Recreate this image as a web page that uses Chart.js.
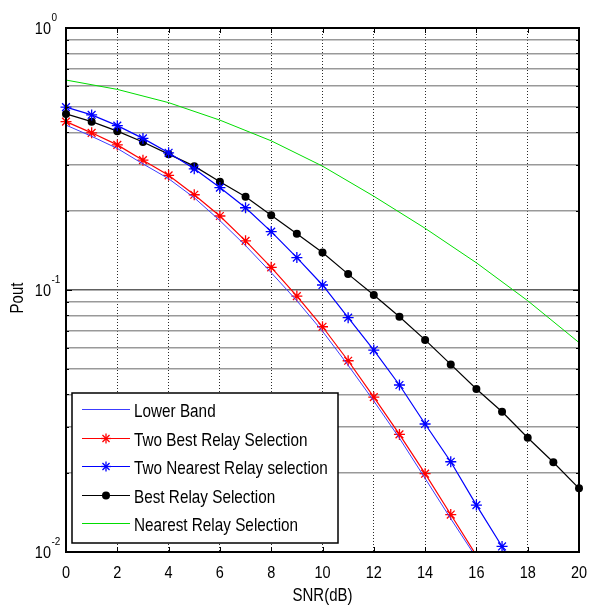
<!DOCTYPE html>
<html><head><meta charset="utf-8">
<script src="https://cdn.jsdelivr.net/npm/chart.js@4/dist/chart.umd.min.js"></script>
<style>html,body{margin:0;padding:0;background:#fff;}#wrap{width:590px;height:605px;}</style>
</head><body><div id="wrap"><canvas id="c" width="590" height="605"></canvas></div>
<script>
// ---- data ----
const snr = [0,1,2,3,4,5,6,7,8,9,10,11,12,13,14,15,16,17,18,19,20];
const xTickLabels = ['0','2','4','6','8','10','12','14','16','18','20'];
const yTickDecades = [1, 0.1, 0.01];
const yTickExponents = ['0','-1','-2'];
const lowerBand   = [0.426,0.386,0.347,0.303,0.266,0.225,0.184,0.1477,0.1165,0.091,0.0696,0.0516,0.0377,0.0272,0.0191,0.0134,0.0095];
const twoBest     = [0.439,0.398,0.358,0.313,0.274,0.231,0.1916,0.154,0.122,0.0948,0.0724,0.0537,0.039,0.0281,0.0199,0.0139,0.0097];
const twoNearest  = [0.499,0.466,0.424,0.379,0.334,0.290,0.246,0.206,0.167,0.133,0.1045,0.0784,0.059,0.0434,0.0308,0.0221,0.0151,0.0105,0.007];
const bestRelay   = [0.470,0.439,0.404,0.367,0.330,0.297,0.259,0.227,0.193,0.164,0.139,0.115,0.0957,0.079,0.0645,0.052,0.0419,0.0343,0.0273,0.022,0.0175];
const nearestSnr  = [0,2,4,6,8,10,12,14,16,18,20];
const nearestRelay= [0.633,0.583,0.519,0.445,0.371,0.297,0.228,0.172,0.127,0.091,0.063];
const seriesLabels = ['Lower Band','Two Best Relay Selection','Two Nearest Relay selection','Best Relay Selection','Nearest Relay Selection'];
const xTitle = 'SNR(dB)';
const yTitle = 'Pout';

// ---- helpers ----
const pts = (xs, ys) => ys.map((v, i) => ({x: xs[i], y: v}));
const FONT = '"Liberation Sans", Arial, Helvetica, sans-serif';
const STRETCH = 1.18;
function drawText(ctx, s, x, y, size, align, sy) {
  ctx.save(); ctx.translate(x, y); ctx.scale(1, sy || STRETCH);
  ctx.font = size + 'px ' + FONT;
  ctx.textAlign = align; ctx.textBaseline = 'middle'; ctx.fillStyle = '#000';
  ctx.fillText(s, 0, 0); ctx.restore();
}
function line(ctx, x1, y1, x2, y2) { ctx.beginPath(); ctx.moveTo(x1, y1); ctx.lineTo(x2, y2); ctx.stroke(); }
function star(ctx, x, y, r) {
  const d = r * Math.SQRT1_2;
  line(ctx, x - r, y, x + r, y); line(ctx, x, y - r, x, y + r);
  line(ctx, x - d, y - d, x + d, y + d); line(ctx, x - d, y + d, x + d, y - d);
}
const isMajor = v => Math.abs(Math.log10(v) - Math.round(Math.log10(v))) < 1e-6;
const hideBelow = r => ctx => (ctx.raw && ctx.raw.y < 0.01) ? 0 : r;

const legendStyles = [
  {color:'#3c3cff', marker:null},
  {color:'#ff0000', marker:'star'},
  {color:'#0000ff', marker:'star'},
  {color:'#000000', marker:'circle'},
  {color:'#00dd00', marker:null}
];

const decor = {
  id: 'decor',
  afterDraw(chart) {
    const {ctx, chartArea: a, scales: {x, y}} = chart;
    ctx.save();
    ctx.strokeStyle = '#000'; ctx.lineWidth = 1;
    y.ticks.forEach(t => {
      const py = Math.round(y.getPixelForValue(t.value)) + 0.5;
      const L = isMajor(t.value) ? 6 : 3;
      line(ctx, a.left, py, a.left + L, py); line(ctx, a.right - L, py, a.right, py);
    });
    x.ticks.forEach(t => {
      const px = Math.round(x.getPixelForValue(t.value)) + 0.5;
      line(ctx, px, a.bottom, px, a.bottom - 5); line(ctx, px, a.top, px, a.top + 5);
    });
    ctx.lineWidth = 2;
    ctx.strokeRect(a.left, a.top, a.right - a.left, a.bottom - a.top);
    // tick labels
    xTickLabels.forEach(s => drawText(ctx, s, x.getPixelForValue(+s), 573, 14.5, 'center'));
    yTickDecades.forEach((v, i) => {
      const py = y.getPixelForValue(v);
      drawText(ctx, '10', 51, py + 1, 14.5, 'right');
      drawText(ctx, yTickExponents[i], 51.5, py - 10, 10, 'left');
    });
    // titles
    drawText(ctx, xTitle, (a.left + a.right) / 2, 596, 15, 'center');
    ctx.save(); ctx.translate(18, 298); ctx.rotate(-Math.PI / 2);
    drawText(ctx, yTitle, 0, 0, 15, 'center'); ctx.restore();
    // legend
    const bx = 72, by = 393, bw = 266, bh = 150;
    ctx.fillStyle = '#fff'; ctx.fillRect(bx, by, bw, bh);
    ctx.lineWidth = 1.5; ctx.strokeStyle = '#000'; ctx.strokeRect(bx, by, bw, bh);
    seriesLabels.forEach((lab, i) => {
      const ly = Math.round(409 + i * 28.5) + 0.5;
      const st = legendStyles[i];
      ctx.strokeStyle = st.color; ctx.fillStyle = st.color; ctx.lineWidth = 1;
      line(ctx, 82, ly, 130, ly);
      ctx.lineWidth = 1.3;
      if (st.marker === 'star') star(ctx, 106, ly, 5);
      if (st.marker === 'circle') { ctx.beginPath(); ctx.arc(106, ly, 4, 0, Math.PI * 2); ctx.fill(); }
      drawText(ctx, lab, 134, ly + 2.5, 15.3, 'left', 1.14);
    });
    ctx.restore();
  }
};

const clipOpt = {left: 8, right: 8, top: 0, bottom: 0};
new Chart(document.getElementById('c'), {
  type: 'line',
  data: {
    datasets: [
      {label: seriesLabels[0], data: pts(snr, lowerBand), borderColor: '#3c3cff', borderWidth: 1, pointRadius: 0, tension: 0, clip: clipOpt},
      {label: seriesLabels[1], data: pts(snr, twoBest), borderColor: '#ff0000', borderWidth: 1.2, pointStyle: 'star',
        pointRadius: hideBelow(5.5), pointBorderColor: '#ff0000', pointBackgroundColor: '#ff0000', pointBorderWidth: 1.3, tension: 0, clip: clipOpt},
      {label: seriesLabels[2], data: pts(snr, twoNearest), borderColor: '#0000ff', borderWidth: 1.2, pointStyle: 'star',
        pointRadius: hideBelow(5.5), pointBorderColor: '#0000ff', pointBackgroundColor: '#0000ff', pointBorderWidth: 1.3, tension: 0, clip: clipOpt},
      {label: seriesLabels[3], data: pts(snr, bestRelay), borderColor: '#000000', borderWidth: 1.2, pointStyle: 'circle',
        pointRadius: hideBelow(4), pointBorderColor: '#000', pointBackgroundColor: '#000', pointBorderWidth: 0, tension: 0, clip: clipOpt},
      {label: seriesLabels[4], data: pts(nearestSnr, nearestRelay), borderColor: '#00dd00', borderWidth: 1, pointRadius: 0, tension: 0, clip: clipOpt}
    ]
  },
  options: {
    responsive: false, animation: false, devicePixelRatio: 1,
    layout: {padding: {top: 28, right: 11, left: 0, bottom: 0}},
    plugins: {legend: {display: false}, tooltip: {enabled: false}},
    elements: {line: {fill: false}},
    scales: {
      x: {
        type: 'linear', min: 0, max: 20,
        ticks: {stepSize: 2, display: false},
        grid: {color: 'rgba(20,20,20,0.9)', lineWidth: 1, drawTicks: false},
        border: {display: false, dash: [1, 2]},
        afterFit: s => { s.height = 53; }
      },
      y: {
        type: 'logarithmic', min: 0.01, max: 1,
        ticks: {display: false},
        afterBuildTicks: s => {
          const t = [];
          [0.01, 0.1].forEach(d => { for (let m = 1; m <= 9; m++) t.push({value: +(m * d).toPrecision(3)}); });
          t.push({value: 1});
          s.ticks = t;
        },
        grid: {
          color: c => (c.tick && isMajor(c.tick.value)) ? '#606060' : '#999999',
          lineWidth: 1.5, drawTicks: false
        },
        border: {display: false},
        afterFit: s => { s.width = 66; }
      }
    }
  },
  plugins: [decor]
});
</script>
</body></html>
